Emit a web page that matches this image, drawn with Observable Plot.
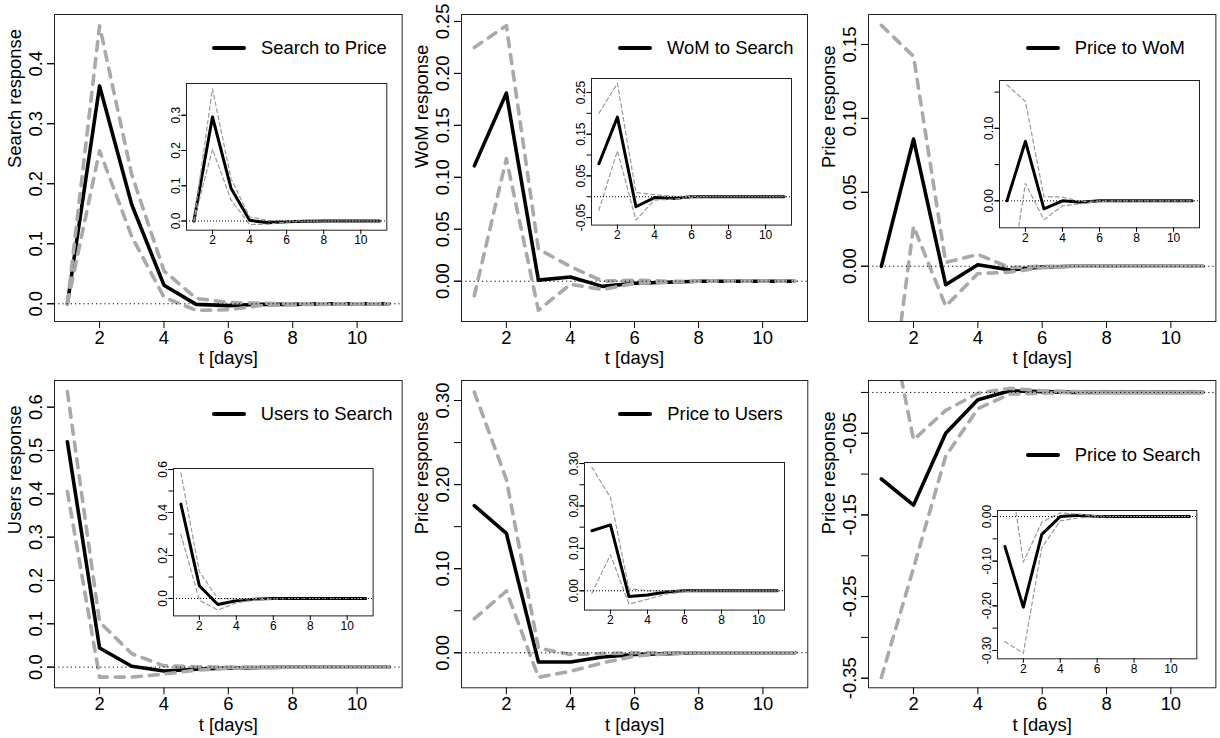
<!DOCTYPE html>
<html><head><meta charset="utf-8">
<script src="https://cdn.jsdelivr.net/npm/d3@7"></script>
<script src="https://cdn.jsdelivr.net/npm/@observablehq/plot@0.6"></script>
<style>
body{margin:0;background:#fff;}
#root{position:relative;width:1220px;height:738px;overflow:hidden;background:#fff;font-family:"Liberation Sans",Arial,Helvetica,sans-serif;}
.leg{position:absolute;display:flex;align-items:center;height:20px;font-size:18.4px;white-space:nowrap;color:#000;}
.leg .ln{display:inline-block;width:34px;height:4px;background:#000;border-radius:2px;margin-right:15px;}
</style></head><body><div id="root"></div>
<script>
// ---------- data ----------
const days = [1, 2, 3, 4, 5, 6, 7, 8, 9, 10, 11];
const xTicks = [2, 4, 6, 8, 10];
const titles = ["Search to Price", "WoM to Search", "Price to WoM", "Users to Search", "Price to Users", "Price to Search"];
const yLabels = ["Search response", "WoM response", "Price response", "Users response", "Price response", "Price response"];

// Panel 1: Search to Price
const sp_main  = [0, 0.363, 0.165, 0.031, -0.001, -0.003, -0.001, -0.001, 0, 0, 0];
const sp_upper = [0, 0.463, 0.215, 0.055, 0.009, 0.002, 0.001, 0, 0, 0, 0];
const sp_lower = [0, 0.255, 0.112, 0.011, -0.011, -0.010, -0.003, -0.001, -0.001, 0, 0];
const sp_in_main  = [0, 0.295, 0.093, 0.002, -0.005, -0.002, -0.001, 0, 0, 0, 0];
const sp_in_upper = [0, 0.375, 0.120, 0.012, 0.001, 0.001, 0, 0, 0, 0, 0];
const sp_in_lower = [0, 0.204, 0.060, -0.010, -0.009, -0.003, -0.001, 0, 0, 0, 0];

// Panel 2: WoM to Search
const ws_main  = [0.111, 0.181, 0.001, 0.004, -0.005, -0.002, -0.001, 0, 0, 0, 0];
const ws_upper = [0.225, 0.246, 0.031, 0.014, 0.000, 0.001, 0, 0, 0, 0, 0];
const ws_lower = [-0.014, 0.118, -0.028, -0.003, -0.008, -0.002, -0.001, 0, 0, 0, 0];
const ws_in_main  = [0.079, 0.191, -0.024, -0.002, -0.004, 0, 0, 0, 0, 0, 0];
const ws_in_upper = [0.200, 0.272, 0.010, 0.005, 0.001, 0.001, 0, 0, 0, 0, 0];
const ws_in_lower = [-0.032, 0.110, -0.056, -0.008, -0.006, -0.001, 0, 0, 0, 0, 0];

// Panel 3: Price to WoM
const pw_main  = [0, 0.086, -0.0125, 0.001, -0.0025, -0.0005, 0, 0, 0, 0, 0];
const pw_upper = [0.163, 0.142, 0.0025, 0.008, -0.001, 0, 0, 0, 0, 0, 0];
const pw_lower = [-0.14, 0.027, -0.027, -0.005, -0.004, -0.001, 0, 0, 0, 0, 0];
const pw_in_main  = [0, 0.082, -0.011, 0, -0.002, 0, 0, 0, 0, 0, 0];
const pw_in_upper = [0.160, 0.137, 0.006, 0.005, -0.001, 0, 0, 0, 0, 0, 0];
const pw_in_lower = [-0.14, 0.024, -0.026, -0.007, -0.004, -0.001, 0, 0, 0, 0, 0];

// Panel 4: Users to Search
const us_main  = [0.52, 0.044, 0.002, -0.009, -0.005, -0.002, -0.001, 0, 0, 0, 0];
const us_upper = [0.636, 0.104, 0.031, 0.003, 0.001, 0, 0, 0, 0, 0, 0];
const us_lower = [0.405, -0.023, -0.023, -0.016, -0.007, -0.003, -0.001, 0, 0, 0, 0];
const us_in_main  = [0.439, 0.059, -0.028, -0.011, -0.003, 0, 0, 0, 0, 0, 0];
const us_in_upper = [0.584, 0.124, 0.000, -0.003, 0, 0, 0, 0, 0, 0, 0];
const us_in_lower = [0.298, -0.008, -0.054, -0.020, -0.008, -0.002, 0, 0, 0, 0, 0];

// Panel 5: Price to Users
const pu_main  = [0.175, 0.142, -0.011, -0.011, -0.005, -0.002, -0.001, 0, 0, 0, 0];
const pu_upper = [0.310, 0.206, 0.0055, -0.002, -0.001, 0, 0, 0, 0, 0, 0];
const pu_lower = [0.0405, 0.0735, -0.029, -0.022, -0.012, -0.004, -0.001, 0, 0, 0, 0];
const pu_in_main  = [0.1415, 0.1555, -0.0135, -0.010, -0.003, 0, 0, 0, 0, 0, 0];
const pu_in_upper = [0.291, 0.220, 0.005, 0.000, 0, 0, 0, 0, 0, 0, 0];
const pu_in_lower = [-0.006, 0.085, -0.031, -0.020, -0.008, -0.002, 0, 0, 0, 0, 0];

// Panel 6: Price to Search
const ps_main  = [-0.106, -0.138, -0.050, -0.009, 0.002, 0.001, 0, 0, 0, 0, 0];
const ps_upper = [0.14, -0.058, -0.022, -0.001, 0.005, 0.002, 0.001, 0, 0, 0, 0];
const ps_lower = [-0.349, -0.215, -0.078, -0.020, -0.002, -0.001, 0, 0, 0, 0, 0];
const ps_in_main  = [-0.067, -0.203, -0.040, 0, 0.003, 0, 0, 0, 0, 0, 0];
const ps_in_upper = [0.18, -0.102, -0.013, 0.008, 0.005, 0.001, 0, 0, 0, 0, 0];
const ps_in_lower = [-0.280, -0.306, -0.070, -0.010, -0.003, -0.001, 0, 0, 0, 0, 0];

// y-axis ticks and labels
const yt1 = [0, 0.1, 0.2, 0.3, 0.4], it1 = [0, 0.1, 0.2, 0.3], il1 = [0, 0.1, 0.2, 0.3];
const yt2 = [0, 0.05, 0.10, 0.15, 0.20, 0.25], it2 = [-0.05, 0, 0.05, 0.10, 0.15, 0.20, 0.25], il2 = [-0.05, 0.05, 0.15, 0.25];
const yt3 = [0, 0.05, 0.10, 0.15], it3 = [0, 0.05, 0.10, 0.15], il3 = [0, 0.10];
const yt4 = [0, 0.1, 0.2, 0.3, 0.4, 0.5, 0.6], it4 = [0, 0.1, 0.2, 0.3, 0.4, 0.5, 0.6], il4 = [0, 0.2, 0.4, 0.6];
const yt5 = [0, 0.05, 0.10, 0.15, 0.20, 0.25, 0.30], yl5 = [0, 0.10, 0.20, 0.30], it5 = yt5, il5 = yl5;
const yt6 = [-0.35, -0.30, -0.25, -0.20, -0.15, -0.10, -0.05, 0], yl6 = [-0.35, -0.25, -0.15, -0.05];
const it6 = [-0.30, -0.25, -0.20, -0.15, -0.10, -0.05, 0], il6 = [-0.30, -0.20, -0.10, 0];

// ---------- layout ----------
const panels = [
  {title: titles[0], ylab: yLabels[0], main: sp_main, upper: sp_upper, lower: sp_lower, imain: sp_in_main, iupper: sp_in_upper, ilower: sp_in_lower,
   frame: [54, 14, 401.7, 321], inset: [185.7, 83.3, 386, 230], ydom: [-0.0295, 0.482], idom: [-0.026, 0.39],
   yt: yt1, yl: yt1, dec: 1, it: it1, il: il1, idec: 1, leg: [212, 47.7]},
  {title: titles[1], ylab: yLabels[1], main: ws_main, upper: ws_upper, lower: ws_lower, imain: ws_in_main, iupper: ws_in_upper, ilower: ws_in_lower,
   frame: [461, 14, 807, 321], inset: [591, 77.7, 791, 224.3], ydom: [-0.0388, 0.2567], idom: [-0.068, 0.2835],
   yt: yt2, yl: yt2, dec: 2, it: it2, il: il2, idec: 2, leg: [618, 47.7]},
  {title: titles[2], ylab: yLabels[2], main: pw_main, upper: pw_upper, lower: pw_lower, imain: pw_in_main, iupper: pw_in_upper, ilower: pw_in_lower,
   frame: [868.3, 14, 1215.7, 321], inset: [999, 80, 1199, 227.3], ydom: [-0.0374, 0.1703], idom: [-0.0372, 0.166],
   yt: yt3, yl: yt3, dec: 2, it: it3, il: il3, idec: 2, leg: [1025.7, 47.7]},
  {title: titles[3], ylab: yLabels[3], main: us_main, upper: us_upper, lower: us_lower, imain: us_in_main, iupper: us_in_upper, ilower: us_in_lower,
   frame: [54, 380, 401.7, 687.3], inset: [172.7, 468.3, 372.3, 615.7], ydom: [-0.0477, 0.6615], idom: [-0.081, 0.6047],
   yt: yt4, yl: yt4, dec: 1, it: it4, il: il4, idec: 1, leg: [211.7, 413.5]},
  {title: titles[4], ylab: yLabels[4], main: pu_main, upper: pu_upper, lower: pu_lower, imain: pu_in_main, iupper: pu_in_upper, ilower: pu_in_lower,
   frame: [461, 380, 807.3, 687.3], inset: [584, 461.7, 784, 609.3], ydom: [-0.0416, 0.3238], idom: [-0.0455, 0.3024],
   yt: yt5, yl: yl5, dec: 2, it: it5, il: il5, idec: 2, leg: [618.3, 414]},
  {title: titles[5], ylab: yLabels[5], main: ps_main, upper: ps_upper, lower: ps_lower, imain: ps_in_main, iupper: ps_in_upper, ilower: ps_in_lower,
   frame: [868.3, 380, 1215.7, 687.3], inset: [996.7, 510, 1196, 658.3], ydom: [-0.3617, 0.0146], idom: [-0.3186, 0.0134],
   yt: yt6, yl: yl6, dec: 2, it: it6, il: il6, idec: 2, leg: [1025.7, 455]}
];

const GRAY = "#a9a9a9";
const FONT = "'Liberation Sans', Arial, Helvetica, sans-serif";
const FS = 18.4;
const root = document.getElementById("root");
const fmt = (dec) => (d) => (Math.abs(d) < 1e-12 ? 0 : d).toFixed(dec);

function place(svg, left, top) {
  svg.style.position = "absolute";
  svg.style.left = left + "px";
  svg.style.top = top + "px";
  svg.style.maxWidth = "none";
  root.appendChild(svg);
}

function rowsOf(main, upper, lower) {
  return days.map((t, i) => ({t, main: main[i], upper: upper[i], lower: lower[i]}));
}

function drawMain(p) {
  const ml = 52, mr = 6, mt = 6, mb = 50;
  const [L, T, R, B] = p.frame;
  const rows = rowsOf(p.main, p.upper, p.lower);
  const svg = Plot.plot({
    width: R - L + ml + mr, height: B - T + mt + mb,
    marginLeft: ml, marginRight: mr, marginTop: mt, marginBottom: mb,
    x: {domain: [0.6, 11.4]},
    y: {domain: p.ydom},
    style: {fontFamily: FONT, fontSize: FS + "px", background: "none", overflow: "visible", color: "#000"},
    marks: [
      Plot.line(rows, {x: "t", y: "main", stroke: "#000", strokeWidth: 3.6, clip: true}),
      Plot.line(rows, {x: "t", y: "upper", stroke: GRAY, strokeWidth: 3.6, strokeDasharray: "9,8", strokeLinecap: "round", clip: true}),
      Plot.line(rows, {x: "t", y: "lower", stroke: GRAY, strokeWidth: 3.6, strokeDasharray: "9,8", strokeLinecap: "round", clip: true}),
      Plot.ruleY([0], {stroke: "#000", strokeDasharray: "1.2,3"}),
      Plot.frame({stroke: "#222"}),
      Plot.axisX(xTicks, {tickSize: 7, tickPadding: 2, fontSize: FS, label: null}),
      Plot.axisY(p.yt, {tickSize: 7, tickFormat: () => "", label: null}),
      Plot.axisY(p.yl, {tickSize: 7, tickPadding: 5.5, tickRotate: -90, tickFormat: fmt(p.dec), fontSize: FS, label: null}),
      Plot.text([p.ylab], {text: (d) => d, frameAnchor: "left", lineAnchor: "middle", dx: -39.5, rotate: -90, fontSize: FS}),
      Plot.text(["t [days]"], {text: (d) => d, frameAnchor: "bottom", lineAnchor: "middle", dy: 37, fontSize: FS})
    ]
  });
  place(svg, L - ml, T - mt);
}

function drawInset(p) {
  const ml = 24, mr = 3, mt = 3, mb = 22;
  const [L, T, R, B] = p.inset;
  const rows = rowsOf(p.imain, p.iupper, p.ilower);
  const svg = Plot.plot({
    width: R - L + ml + mr, height: B - T + mt + mb,
    marginLeft: ml, marginRight: mr, marginTop: mt, marginBottom: mb,
    x: {domain: [0.6, 11.4]},
    y: {domain: p.idom},
    style: {fontFamily: FONT, fontSize: "12px", background: "none", overflow: "visible", color: "#000"},
    marks: [
      Plot.line(rows, {x: "t", y: "main", stroke: "#000", strokeWidth: 3, clip: true}),
      Plot.line(rows, {x: "t", y: "upper", stroke: "#9a9a9a", strokeWidth: 1.2, strokeDasharray: "4,3", clip: true}),
      Plot.line(rows, {x: "t", y: "lower", stroke: "#9a9a9a", strokeWidth: 1.2, strokeDasharray: "4,3", clip: true}),
      Plot.ruleY([0], {stroke: "#000", strokeDasharray: "1,2"}),
      Plot.frame({stroke: "#222"}),
      Plot.axisX(xTicks, {tickSize: 4.5, tickPadding: 1.2, fontSize: 12, label: null}),
      Plot.axisY(p.it, {tickSize: 4.5, tickFormat: () => "", label: null}),
      Plot.axisY(p.il, {tickSize: 4.5, tickPadding: 2, tickRotate: -90, tickFormat: fmt(p.idec), fontSize: 12, label: null})
    ]
  });
  place(svg, L - ml, T - mt);
}

function drawLegend(p) {
  const div = document.createElement("div");
  div.className = "leg";
  div.style.left = p.leg[0] + "px";
  div.style.top = (p.leg[1] - 10) + "px";
  const ln = document.createElement("span");
  ln.className = "ln";
  const tx = document.createElement("span");
  tx.textContent = p.title;
  div.appendChild(ln);
  div.appendChild(tx);
  root.appendChild(div);
}

for (const p of panels) {
  drawMain(p);
  drawInset(p);
  drawLegend(p);
}
</script></body></html>
